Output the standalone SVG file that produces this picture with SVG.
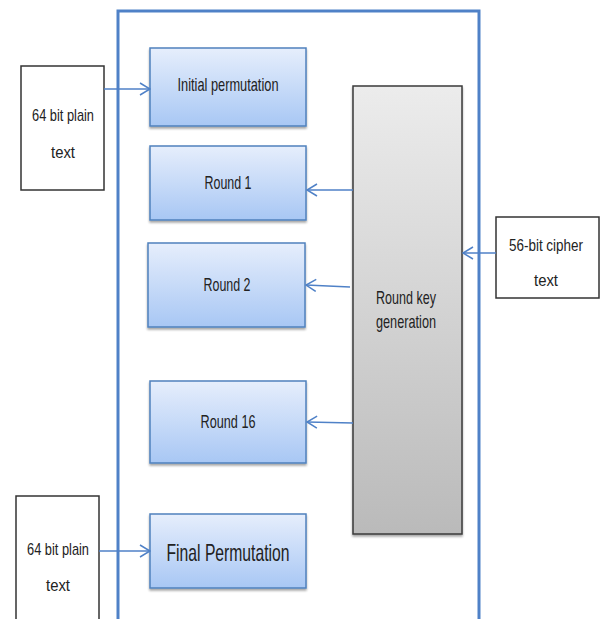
<svg xmlns="http://www.w3.org/2000/svg" width="603" height="619" viewBox="0 0 603 619">
<defs>
<linearGradient id="gb" x1="0" y1="0" x2="0" y2="1"><stop offset="0" stop-color="#e6eefc"/><stop offset="1" stop-color="#a8c7f4"/></linearGradient>
<linearGradient id="gg" x1="0" y1="0" x2="0" y2="1"><stop offset="0" stop-color="#ececec"/><stop offset="1" stop-color="#bababa"/></linearGradient>
<filter id="sh" x="-10%" y="-10%" width="120%" height="130%"><feDropShadow dx="0" dy="2" stdDeviation="1" flood-color="#000" flood-opacity="0.35"/></filter>
<marker id="ar" markerWidth="12" markerHeight="14" refX="11" refY="7" orient="auto" markerUnits="userSpaceOnUse"><path d="M1,1 L11,7 L1,13" fill="none" stroke="#4f81c7" stroke-width="1.5"/></marker>
<style>
.fr{fill:none;stroke:#4f81c7;stroke-width:3}
.bb{fill:url(#gb);stroke:#4f81bd;stroke-width:1.5;filter:url(#sh)}
.gb{fill:url(#gg);stroke:#3a3a3a;stroke-width:1.5;filter:url(#sh)}
.wb{fill:#fff;stroke:#333;stroke-width:1.5}
.t{font-family:"Liberation Sans",Arial,sans-serif;font-size:19px;fill:#222;text-anchor:middle}
.s{font-size:17px}
.c line{stroke:#4f81c7;stroke-width:1.5;marker-end:url(#ar)}
</style>
</defs>
<rect class="fr" x="118" y="11" width="361" height="620"/>
<g id="plain1"><rect class="wb" x="21" y="66" width="83" height="124"/><text class="t s" x="63" y="121" textLength="62" lengthAdjust="spacingAndGlyphs">64 bit plain</text><text class="t s" x="63" y="158" textLength="24" lengthAdjust="spacingAndGlyphs">text</text></g>
<g id="plain2"><rect class="wb" x="16" y="496" width="83" height="130"/><text class="t s" x="58" y="555" textLength="62" lengthAdjust="spacingAndGlyphs">64 bit plain</text><text class="t s" x="58" y="591" textLength="24" lengthAdjust="spacingAndGlyphs">text</text></g>
<g id="cipher"><rect class="wb" x="496" y="217" width="103" height="81"/><text class="t s" x="546" y="251" textLength="74" lengthAdjust="spacingAndGlyphs">56-bit cipher</text><text class="t s" x="546" y="286" textLength="24" lengthAdjust="spacingAndGlyphs">text</text></g>
<g id="ip"><rect class="bb" x="150" y="48" width="156" height="78"/><text class="t" x="228" y="91" textLength="101" lengthAdjust="spacingAndGlyphs">Initial permutation</text></g>
<g id="r1"><rect class="bb" x="150" y="146" width="156" height="74"/><text class="t" x="228" y="189" textLength="47" lengthAdjust="spacingAndGlyphs">Round 1</text></g>
<g id="r2"><rect class="bb" x="148" y="243" width="157" height="84"/><text class="t" x="227" y="291" textLength="47" lengthAdjust="spacingAndGlyphs">Round 2</text></g>
<g id="r16"><rect class="bb" x="150" y="381" width="156" height="82"/><text class="t" x="228" y="428" textLength="55" lengthAdjust="spacingAndGlyphs">Round 16</text></g>
<g id="fp"><rect class="bb" x="150" y="514" width="156" height="74"/><text class="t" x="228" y="561" style="font-size:24px" textLength="123" lengthAdjust="spacingAndGlyphs">Final Permutation</text></g>
<g id="rkg"><rect class="gb" x="353" y="86" width="109" height="448"/><text class="t" x="406" y="304" textLength="60" lengthAdjust="spacingAndGlyphs">Round key</text><text class="t" x="406" y="328" textLength="60" lengthAdjust="spacingAndGlyphs">generation</text></g>
<g id="connectors" class="c">
<line x1="104" y1="89" x2="150" y2="89"/>
<line x1="99" y1="551" x2="150" y2="551"/>
<line x1="353" y1="190" x2="307" y2="190"/>
<line x1="350" y1="287" x2="306" y2="285"/>
<line x1="353" y1="423" x2="307" y2="422"/>
<line x1="496" y1="253" x2="463" y2="253"/>
</g>
</svg>
